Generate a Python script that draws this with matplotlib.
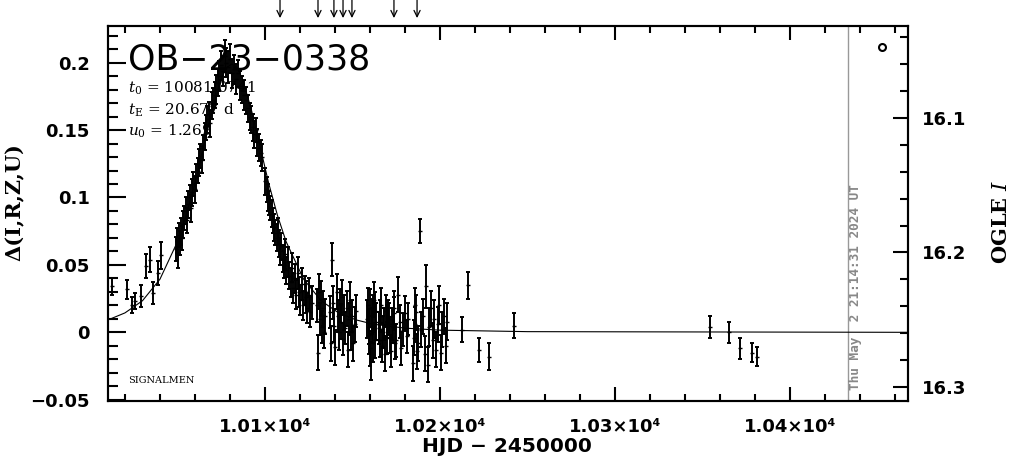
import matplotlib

matplotlib.use("Agg")

import matplotlib.pyplot as plt
from matplotlib.ticker import FixedLocator, MultipleLocator

OUTPUT_FILE = "out.png"

# photometry, HJD - 2450000, delta mag, error
HJD = [
    10012.6, 10021.1, 10024.0, 10025.7, 10029.1, 10032.0, 10034.3, 10036.0, 10038.9, 10040.6,
    10048.9, 10049.5, 10050.2, 10050.8, 10051.4, 10052.0, 10052.6, 10053.3,
    10054.0, 10054.8, 10055.5, 10056.2, 10057.0, 10057.7, 10058.4, 10059.1, 10060.0, 10060.8,
    10061.5, 10062.2, 10063.0, 10063.8, 10064.6,
    10065.5, 10066.3, 10067.1, 10068.0, 10068.8, 10069.6, 10070.4,
    10071.3, 10072.2, 10073.1, 10074.0,
    10075.0, 10076.0, 10077.0, 10078.0, 10079.0, 10080.0, 10081.0,
    10082.3, 10083.5, 10084.6, 10085.8, 10087.0, 10088.2, 10089.3,
    10090.3, 10091.2, 10092.1, 10093.0, 10093.9, 10094.8, 10095.7, 10096.6, 10097.5, 10098.4,
    10100.3, 10101.0, 10101.7, 10102.4, 10103.1, 10103.8, 10104.5, 10105.2, 10105.9, 10106.6,
    10107.3, 10108.0, 10108.7, 10109.4, 10110.1, 10110.8, 10111.5, 10112.2,
    10113.0, 10113.8, 10114.6, 10115.4, 10116.2, 10117.0, 10117.8, 10118.6, 10119.4, 10120.2,
    10121.0, 10121.8, 10122.6, 10123.4, 10124.2, 10125.0, 10125.8, 10126.6,
    10129.8, 10130.3, 10130.8, 10131.4, 10132.0, 10132.6, 10133.2, 10133.8, 10134.4,
    10137.2, 10137.9, 10138.5, 10139.0, 10139.6, 10140.2, 10140.9, 10141.5, 10142.1, 10142.8,
    10143.4, 10144.0, 10144.7, 10145.3, 10146.0, 10146.6, 10147.3, 10147.9, 10148.6, 10149.2,
    10149.9, 10150.5, 10151.2, 10151.8,
    10158.5, 10158.8, 10159.2, 10159.5, 10159.9, 10160.2, 10160.6, 10161.0, 10161.3, 10161.7,
    10162.0, 10162.4, 10162.7, 10163.1, 10163.4,
    10165.0, 10165.5, 10166.0, 10166.5, 10167.0, 10167.5, 10168.0, 10168.5, 10169.0, 10169.5,
    10170.0, 10170.5, 10171.0, 10171.5, 10172.0, 10172.5, 10173.0, 10173.5, 10174.0, 10174.5,
    10175.0, 10176.0, 10177.0, 10178.0, 10179.0, 10180.0, 10181.0, 10182.0,
    10184.6, 10185.0, 10185.6, 10186.0, 10186.5, 10187.0, 10187.4, 10188.4, 10189.3, 10190.2,
    10191.2, 10192.1, 10193.0, 10194.0, 10194.9, 10195.8, 10196.8, 10197.7, 10198.6, 10199.6,
    10200.5, 10201.4, 10202.4, 10203.3, 10204.2,
    10212.6, 10216.0, 10222.3, 10228.0, 10242.3,
    10354.3, 10365.1, 10371.4, 10378.3, 10381.1,
]
DELTA = [
    0.034, 0.032, 0.020, 0.023, 0.027, 0.049, 0.054, 0.029, 0.044, 0.057,
    0.062, 0.068, 0.058, 0.072, 0.066, 0.075, 0.070, 0.080,
    0.085, 0.090, 0.083, 0.095, 0.100, 0.092, 0.104, 0.110, 0.106, 0.115,
    0.120, 0.126, 0.131, 0.128, 0.137,
    0.145, 0.152, 0.158, 0.162, 0.155, 0.168, 0.172,
    0.176, 0.180, 0.185, 0.190,
    0.198, 0.194, 0.205, 0.200, 0.197, 0.203, 0.192,
    0.195, 0.188, 0.192, 0.183, 0.180, 0.176, 0.172,
    0.166, 0.160, 0.158, 0.152, 0.147, 0.150, 0.141, 0.137, 0.133, 0.130,
    0.112, 0.106, 0.100, 0.096, 0.092, 0.088, 0.083, 0.078, 0.074, 0.070,
    0.075, 0.066, 0.060, 0.064, 0.055, 0.050, 0.058, 0.046,
    0.052, 0.042, 0.037, 0.048, 0.033, 0.040, 0.028, 0.044, 0.030, 0.024,
    0.036, 0.020, 0.031, 0.026, 0.018, 0.028, 0.015, 0.022,
    0.020, -0.015, 0.030, 0.010, 0.025, 0.004, 0.018, 0.000, 0.012,
    0.015, -0.008, 0.054, 0.022, 0.005, -0.011, 0.030, 0.012, 0.000, 0.020,
    0.008, 0.026, -0.005, 0.015, 0.003, 0.018, -0.013, 0.010, 0.024, 0.000,
    0.012, -0.008, 0.006, 0.016,
    0.010, 0.020, -0.002, 0.004, 0.018, -0.012, -0.021, 0.012, 0.005, -0.008,
    0.014, 0.024, -0.006, 0.016, 0.008,
    0.003, -0.006, 0.012, 0.020, -0.010, 0.000, 0.006, -0.016, 0.016, 0.008,
    -0.004, 0.012, 0.010, -0.002, -0.014, 0.006, 0.004, 0.014, 0.018, -0.008,
    -0.006, 0.028, 0.008, -0.012, 0.002, 0.014, -0.003, 0.010,
    -0.023, -0.004, 0.006, 0.020, 0.015, -0.014, -0.008, 0.075, 0.002, 0.012,
    -0.016, 0.034, -0.024, 0.004, 0.018, -0.006, 0.010, -0.013, 0.006, 0.020,
    -0.015, 0.002, 0.012, -0.010, 0.008,
    0.002, 0.035, -0.013, -0.018, 0.005,
    0.004, 0.000, -0.012, -0.015, -0.018,
]
ERROR = [
    0.006, 0.007, 0.006, 0.006, 0.008, 0.009, 0.009, 0.008, 0.009, 0.010,
    0.009, 0.009, 0.010, 0.009, 0.009, 0.010, 0.009, 0.010,
    0.009, 0.010, 0.009, 0.010, 0.009, 0.010, 0.010, 0.009, 0.010, 0.010,
    0.009, 0.010, 0.009, 0.010, 0.009,
    0.010, 0.009, 0.010, 0.009, 0.010, 0.010, 0.009,
    0.010, 0.011, 0.010, 0.011,
    0.011, 0.011, 0.012, 0.011, 0.012, 0.011, 0.011,
    0.011, 0.011, 0.010, 0.011, 0.010, 0.011, 0.010,
    0.010, 0.010, 0.010, 0.010, 0.010, 0.009, 0.010, 0.010, 0.010, 0.010,
    0.010, 0.009, 0.010, 0.009, 0.009, 0.010, 0.009, 0.010, 0.009, 0.010,
    0.010, 0.010, 0.010, 0.010, 0.010, 0.010, 0.011, 0.010,
    0.011, 0.010, 0.011, 0.011, 0.011, 0.011, 0.011, 0.012, 0.011, 0.011,
    0.012, 0.011, 0.011, 0.012, 0.011, 0.012, 0.011, 0.012,
    0.012, 0.013, 0.013, 0.012, 0.013, 0.012, 0.013, 0.012, 0.013,
    0.012, 0.013, 0.012, 0.012, 0.012, 0.013, 0.013, 0.012, 0.013, 0.012,
    0.013, 0.013, 0.012, 0.013, 0.012, 0.013, 0.013, 0.012, 0.013, 0.013,
    0.012, 0.013, 0.013, 0.012,
    0.014, 0.013, 0.014, 0.013, 0.014, 0.013, 0.014, 0.013, 0.013, 0.014,
    0.014, 0.013, 0.013, 0.014, 0.014,
    0.012, 0.012, 0.012, 0.013, 0.012, 0.012, 0.012, 0.013, 0.012, 0.012,
    0.012, 0.012, 0.012, 0.013, 0.012, 0.012, 0.012, 0.012, 0.013, 0.012,
    0.012, 0.013, 0.012, 0.012, 0.012, 0.013, 0.012, 0.012,
    0.013, 0.013, 0.013, 0.013, 0.013, 0.013, 0.013, 0.009, 0.013, 0.013,
    0.013, 0.016, 0.013, 0.014, 0.013, 0.013, 0.014, 0.013, 0.013, 0.014,
    0.013, 0.013, 0.013, 0.013, 0.014,
    0.009, 0.010, 0.009, 0.010, 0.009,
    0.008, 0.008, 0.008, 0.007, 0.007,
]

# fitted model curve
MODEL_HJD = [
    10010.3, 10020.0, 10030.0, 10040.0, 10050.0, 10055.0, 10060.0, 10065.0, 10070.0,
    10075.0, 10078.0, 10081.07, 10084.1, 10087.1, 10092.1, 10097.1, 10102.1, 10107.1,
    10112.1, 10122.1, 10132.1, 10142.1, 10152.1, 10162.0, 10180.0, 10200.0, 10250.0,
    10467.4,
]
MODEL_DELTA = [
    0.0092, 0.0144, 0.0234, 0.0394, 0.0672, 0.0869, 0.1107, 0.1383, 0.1658,
    0.1880, 0.1963, 0.1990, 0.1963, 0.1880, 0.1658, 0.1383, 0.1107, 0.0869,
    0.0672, 0.0394, 0.0234, 0.0144, 0.0092, 0.0060, 0.0031, 0.0016, 0.0005,
    0.0,
]

ARROW_HJD = [10108.6, 10130.3, 10139.4, 10144.6, 10149.7, 10173.7, 10186.9]

X_TICKS = [10100, 10200, 10300, 10400]
X_TICK_LABELS = ["1.01×10⁴", "1.02×10⁴", "1.03×10⁴", "1.04×10⁴"]
Y_TICKS = [-0.05, 0.0, 0.05, 0.1, 0.15, 0.2]
Y_TICK_LABELS = ["−0.05", "0", "0.05", "0.1", "0.15", "0.2"]
MAG_TICKS = [16.1, 16.2, 16.3]
MAG_ZERO = 16.2592

XLIM = (10010.3, 10467.4)
YLIM = (-0.0513, 0.2272)
NOW_HJD = 10433.1
LEGEND_POINT = (10452.6, 0.2117)

PARAM_LINES = [r"$t_0$ = 10081.0741", r"$t_{\rm E}$ = 20.677 d", r"$u_0$ = 1.269"]


def main():
    plt.rcParams["mathtext.fontset"] = "dejavuserif"

    fig = plt.figure(figsize=(10.11, 4.59), dpi=100)
    ax = fig.add_axes([0.1068, 0.1253, 0.7913, 0.8181])

    ax.errorbar(
        HJD, DELTA, yerr=ERROR, fmt="_", color="k", ecolor="k",
        markersize=3, elinewidth=1.4, capsize=1.5, capthick=1.4, zorder=3,
    )
    ax.plot(MODEL_HJD, MODEL_DELTA, color="k", linewidth=0.8, zorder=2)
    ax.axvline(NOW_HJD, color="#999999", linewidth=1.0, zorder=1)
    ax.plot(*LEGEND_POINT, marker="o", markersize=5, markerfacecolor="white",
            markeredgecolor="k", markeredgewidth=1.5, zorder=4)

    for t in ARROW_HJD:
        ax.annotate(
            "", xy=(t, 1.021), xycoords=("data", "axes fraction"),
            xytext=(t, 1.07), textcoords=("data", "axes fraction"),
            arrowprops=dict(arrowstyle="->,head_length=0.45,head_width=0.22",
                            color="k", lw=0.9, shrinkA=0, shrinkB=0),
            annotation_clip=False,
        )

    ax.set_xlim(*XLIM)
    ax.set_ylim(*YLIM)
    ax.xaxis.set_major_locator(FixedLocator(X_TICKS))
    ax.set_xticklabels(X_TICK_LABELS)
    ax.xaxis.set_minor_locator(MultipleLocator(20))
    ax.yaxis.set_major_locator(FixedLocator(Y_TICKS))
    ax.set_yticklabels(Y_TICK_LABELS)
    ax.yaxis.set_minor_locator(MultipleLocator(0.01))

    ax.tick_params(axis="x", which="both", direction="in", top=True, bottom=True, width=1.5)
    ax.tick_params(axis="x", which="major", length=10, pad=12)
    ax.tick_params(axis="x", which="minor", length=5)
    ax.tick_params(axis="y", which="both", direction="in", left=True, right=False, width=1.5)
    ax.tick_params(axis="y", which="major", length=13, pad=13)
    ax.tick_params(axis="y", which="minor", length=7)
    for label in ax.get_xticklabels() + ax.get_yticklabels():
        label.set_fontsize(13)
        label.set_fontweight("bold")
    for spine in ax.spines.values():
        spine.set_linewidth(1.5)

    ax2 = ax.twinx()
    ax2.set_ylim(MAG_ZERO - YLIM[0], MAG_ZERO - YLIM[1])
    ax2.yaxis.set_major_locator(FixedLocator(MAG_TICKS))
    ax2.set_yticklabels([f"{m:.1f}" for m in MAG_TICKS])
    ax2.yaxis.set_minor_locator(MultipleLocator(0.02))
    ax2.tick_params(axis="y", which="both", direction="in", width=1.5)
    ax2.tick_params(axis="y", which="major", length=11, pad=10, labelsize=13)
    ax2.tick_params(axis="y", which="minor", length=6)
    for label in ax2.get_yticklabels():
        label.set_fontweight("bold")
    for spine in ax2.spines.values():
        spine.set_linewidth(1.5)

    # labels and annotations
    fig.text(128 / 1011, 1 - 70 / 459, "OB−23−0338", fontsize=25,
             family="DejaVu Sans", ha="left", va="baseline", zorder=1)
    for i, line in enumerate(PARAM_LINES):
        fig.text(128 / 1011, 1 - (93 + 21.5 * i) / 459, line, fontsize=11,
                 family="DejaVu Serif", ha="left", va="baseline", zorder=1)
    fig.text(128 / 1011, 1 - 383 / 459, "SIGNALMEN", fontsize=7,
             family="DejaVu Serif", ha="left", va="baseline")
    fig.text(855 / 1011, 1 - 390 / 459, "Thu May  2 21:14:31 2024 UT", fontsize=9.2,
             family="DejaVu Sans Mono", weight="bold", color="#888888",
             rotation=90, ha="center", va="bottom")

    fig.text(507 / 1011, 1 - 447 / 459, "HJD − 2450000", fontsize=14.5,
             weight="bold", ha="center", va="center")
    fig.text(15 / 1011, 1 - 202 / 459, "Δ(I,R,Z,U)", fontsize=15,
             family="DejaVu Serif", weight="bold", rotation=90, ha="center", va="center")
    fig.text(1001 / 1011, 1 - 222 / 459, r"OGLE $\mathbf{\mathit{I}}$", fontsize=15,
             family="DejaVu Serif", weight="bold", rotation=90, ha="center", va="center")

    fig.savefig(OUTPUT_FILE, dpi=100)
    plt.close(fig)


if __name__ == "__main__":
    main()
